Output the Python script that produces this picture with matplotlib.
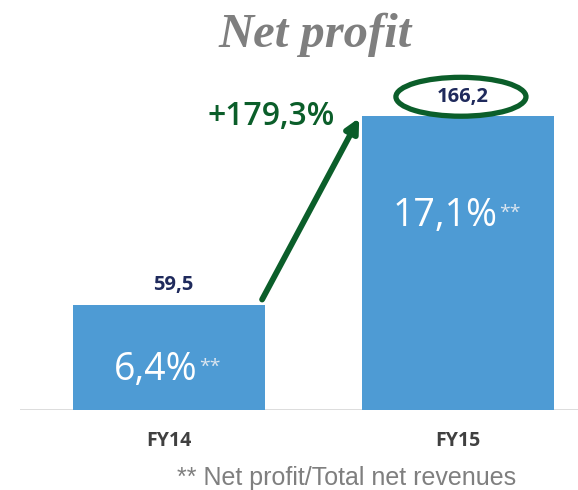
"""Net profit FY14 vs FY15 bar chart with growth arrow."""

import matplotlib.pyplot as plt
from matplotlib.patches import Ellipse

categories = ['FY14', 'FY15']
net_profit = [59.5, 166.2]
value_labels = ['59,5', '166,2']
margin_labels = ['6,4%', '17,1%']
growth_label = '+179,3%'
footnote = '** Net profit/Total net revenues'

BAR_BLUE = '#4E9BD4'
NAVY = '#1F2A5C'
GREEN = '#0B5E2A'
GRAY = '#7F7F7F'

fig = plt.figure(figsize=(5.78, 4.90), dpi=100)
ax = fig.add_axes([20 / 578, 80 / 490, 558 / 578, 350 / 490])

x = list(range(len(categories)))
width = 0.664
bars = ax.bar(x, net_profit, width=width, color=BAR_BLUE, zorder=2)

ax.set_xlim(-0.5156, 1.415)
ax.set_ylim(0, 198)
for s in ax.spines.values():
    s.set_visible(False)
ax.set_xticks([])
ax.set_yticks([])
ax.axhline(0, color='#D9D9D9', lw=2, zorder=1)

# value labels above bars
for xi, v, lab in zip(x, net_profit, value_labels):
    ax.annotate(lab, (xi, v), xytext=(3, 14), textcoords='offset points',
                ha='center', va='center', fontsize=14.5, fontweight='bold',
                color=NAVY, family='Open Sans')

# category labels under axis
for xi, cat in zip(x, categories):
    ax.annotate(cat, (xi, 0), xytext=(0, -22), textcoords='offset points',
                ha='center', va='center', fontsize=14, fontweight='bold',
                color='#404040', family='Open Sans')

# margin percentages inside bars
fig.canvas.draw()
renderer = fig.canvas.get_renderer()
margin_y = [22.6, 110]
for xi, y, lab in zip(x, margin_y, margin_labels):
    t = ax.text(xi - 0.045, y, lab, ha='center', va='center', fontsize=27,
                color='white', family='Open Sans')
    bb = t.get_window_extent(renderer)
    ax.annotate('**', (bb.x1, bb.y1), xycoords='figure pixels',
                xytext=(1, -5), textcoords='offset points', ha='left', va='top',
                fontsize=14, color='#DCE6F0', family='Open Sans')

# growth arrow
x0 = x[0] + width / 2 - 0.01
x1 = x[1] - width / 2 - 0.01
ax.annotate('', xy=(x1, net_profit[1] - 1), xytext=(x0, net_profit[0] + 3),
            arrowprops=dict(arrowstyle='-|>,head_length=0.8,head_width=0.4',
                            color=GREEN, lw=4.2, shrinkA=0, shrinkB=0))
ax.text(x1 - 0.085, net_profit[1], growth_label, ha='right', va='center',
        fontsize=23, color=GREEN, family='Open Sans', fontweight='semibold')

# ellipse highlighting FY15 value
ax.add_patch(Ellipse((x[1] + 0.01, net_profit[1] + 11), 0.45, 22, fill=False,
                     edgecolor=GREEN, lw=3.8, clip_on=False, zorder=3))

fig.text(0.545, 0.929, 'Net profit', ha='center', va='center', fontsize=35,
         fontweight='bold', fontstyle='italic', color=GRAY,
         family='Liberation Serif')
fig.text(0.6, 0.024, footnote, ha='center', va='center', fontsize=18,
         color=GRAY, family='Liberation Sans')

fig.savefig('out.png', dpi=100)
